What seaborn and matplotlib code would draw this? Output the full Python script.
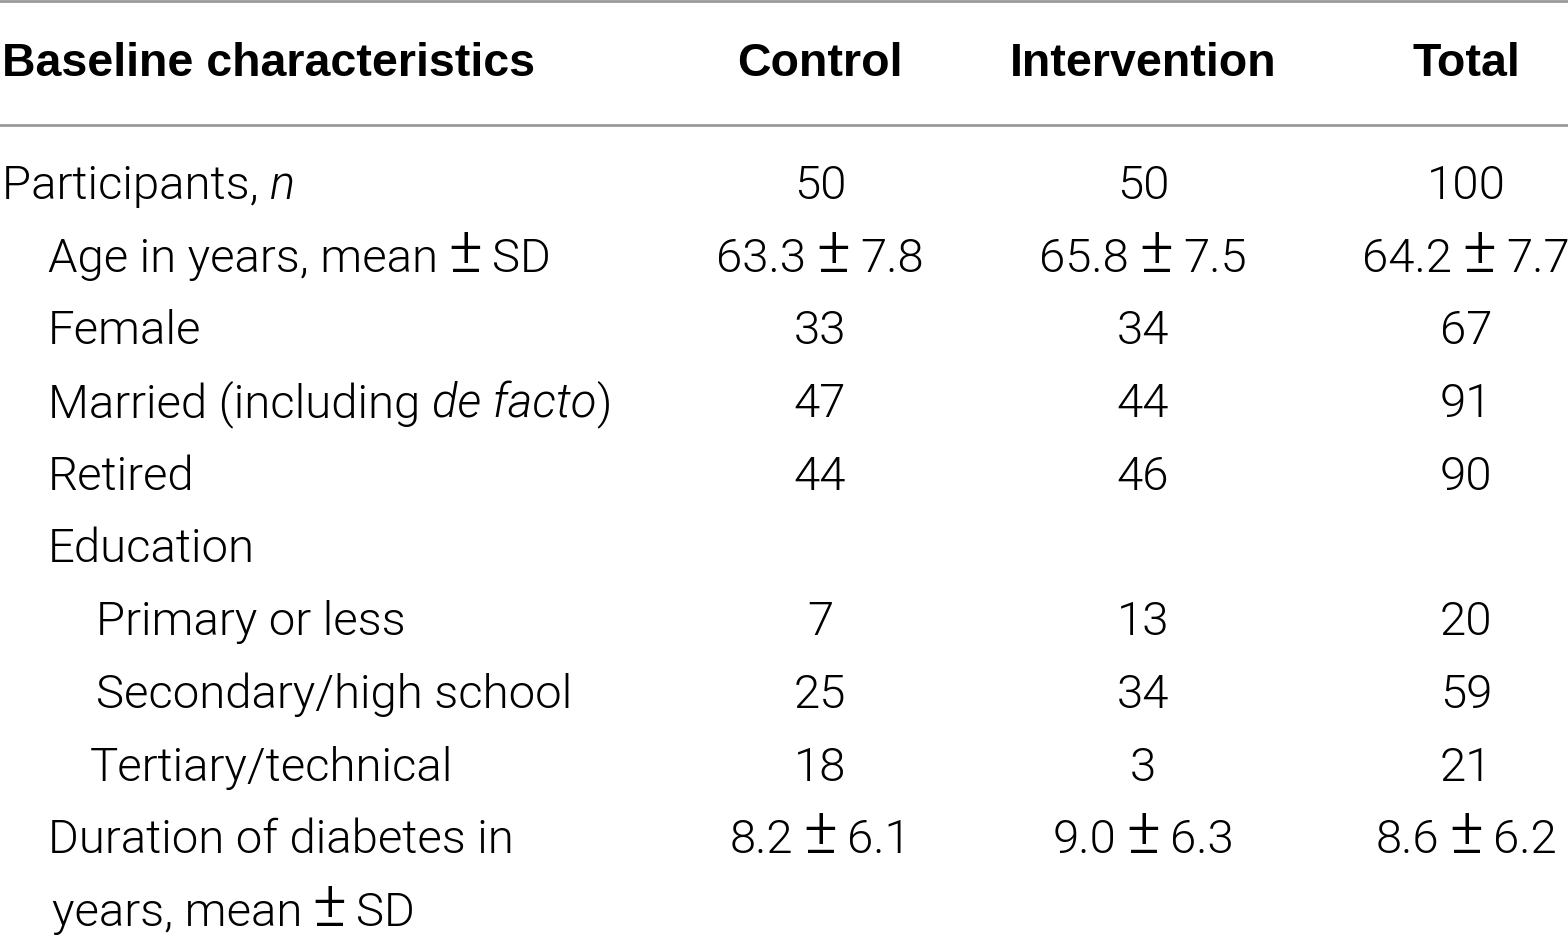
import seaborn as sns
import matplotlib.pyplot as plt
from matplotlib import font_manager

columns = ["Control", "Intervention", "Total"]
header_label = "Baseline characteristics"

# row labels: '*' marks italic pieces, '±' is drawn as its own glyph
row_labels = [
    "Participants, *n*",
    "Age in years, mean±SD",
    "Female",
    "Married (including *de facto*)",
    "Retired",
    "Education",
    "Primary or less",
    "Secondary/high school",
    "Tertiary/technical",
    "Duration of diabetes in",
    "years, mean±SD",
]
row_indent = [2, 48, 48, 48, 48, 48, 96, 96, 90, 48, 52]

control = ["50", "63.3±7.8", "33", "47", "44", "", "7", "25", "18", "8.2±6.1", ""]
intervention = ["50", "65.8±7.5", "34", "44", "46", "", "13", "34", "3", "9.0±6.3", ""]
total = ["100", "64.2±7.7", "67", "91", "90", "", "20", "59", "21", "8.6±6.2", ""]

sns.set_theme(style="white")

names = {(f.name, f.weight) for f in font_manager.fontManager.ttflist}
if ("Roboto", 300) in names:
    fam, wt = ["Roboto", "DejaVu Sans"], 300
else:
    fam, wt = ["Liberation Sans", "DejaVu Sans"], "normal"
plt.rcParams["font.family"] = fam

fig = plt.figure(figsize=(15.68, 9.37), dpi=100)
ax = fig.add_axes([0, 0, 1, 1])
ax.set_xlim(0, 1568)
ax.set_ylim(937, 0)
ax.axis("off")

col_x = [820, 1143, 1466]
body_size = 34
head_size = 33.5
pm_gap = 10

ax.axhline(2, color="#9a9a9a", lw=2)
ax.axhline(126, color="#9a9a9a", lw=2)

ax.text(2, 76, header_label, fontsize=head_size, fontweight="bold",
        family=["Liberation Sans", "DejaVu Sans"], va="baseline", ha="left", color="black")
for cx, name in zip(col_x, columns):
    ax.text(cx, 76, name, fontsize=head_size, fontweight="bold",
            family=["Liberation Sans", "DejaVu Sans"], va="baseline", ha="center", color="black")

fig.canvas.draw()
renderer = fig.canvas.get_renderer()
px_per_unit = fig.bbox.width / 1568


def split_pieces(s):
    out = []
    for k, part in enumerate(s.split("*")):
        italic = k % 2 == 1
        for j, sub in enumerate(part.split("±")):
            if j > 0:
                out.append(("±", False, True))
            if sub:
                out.append((sub, italic, False))
    return out


def draw_pieces(x, y, s, ha="left"):
    texts = []
    widths = []
    for txt, it, pm in split_pieces(s):
        t = ax.text(0, y, txt, fontsize=body_size * (1.35 if pm else 1.0),
                    fontweight=wt, style="italic" if it else "normal",
                    va="baseline", ha="left", color="black")
        w = t.get_window_extent(renderer=renderer).width / px_per_unit
        if pm:
            w += 2 * pm_gap
        texts.append((t, pm))
        widths.append(w)
    tot = sum(widths)
    cur = x - tot / 2 if ha == "center" else x
    for (t, pm), w in zip(texts, widths):
        t.set_x(cur + (pm_gap if pm else 0))
        cur += w


for i, lab in enumerate(row_labels):
    y = 199 + 72.7 * i
    draw_pieces(row_indent[i], y, lab)
    for cx, vals in zip(col_x, [control, intervention, total]):
        if vals[i]:
            draw_pieces(cx, y, vals[i], ha="center")

fig.savefig("out.png", dpi=100, facecolor="white")
